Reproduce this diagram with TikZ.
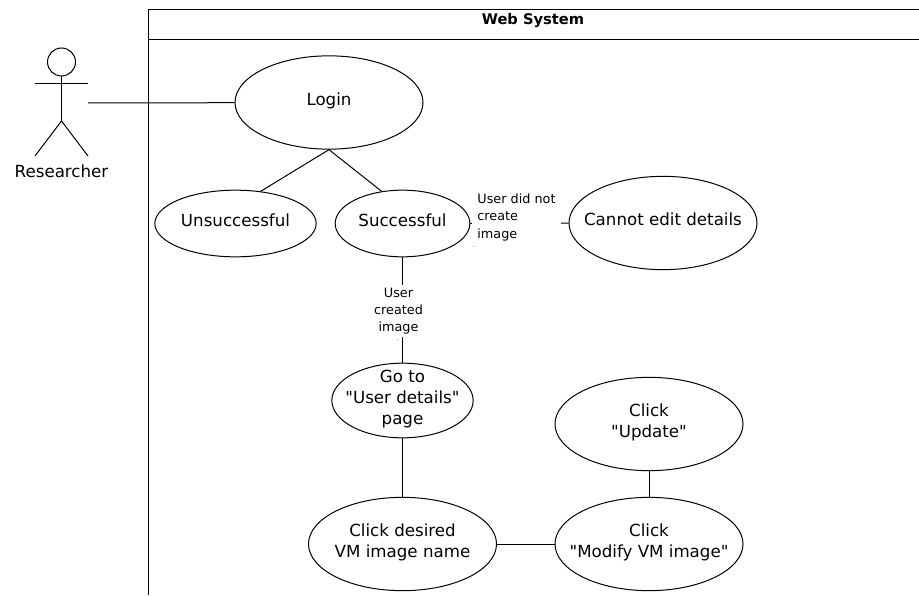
\documentclass[tikz,border=0pt]{standalone}
\usepackage{fontspec}
\setmainfont{DejaVu Sans}[Ligatures=TeXOff]
\usetikzlibrary{shapes.geometric}
\newcommand{\straydot}[1]{\rlap{\smash{\hspace*{#1}\raisebox{-6.75pt}{\fontsize{4pt}{4pt}\selectfont.}}}}

\begin{document}
\begin{tikzpicture}[x=0.75pt,y=0.75pt,yscale=-1,xscale=1,
  line width=0.75pt,
  usecase/.style={draw,ellipse,inner sep=-20pt,align=center,text depth=5pt,font=\fontsize{12.5pt}{16pt}\selectfont},
  guard/.style={fill=white,inner xsep=3.75pt,inner ysep=2.25pt,font=\fontsize{9.6pt}{13pt}\selectfont}]
\useasboundingbox (0,0) rectangle (919,595);

%Shape: Frame
\draw (148.5,595) -- (148.5,9.5) -- (919,9.5);
\draw (148.5,40) -- (919,40);
% Text Node
\node (title) at (533,21) {\fontsize{11pt}{13pt}\selectfont\bfseries Web System};

%Shape: Actor
\draw (61.5,62) circle (14);
\draw (61.5,76) -- (61.5,121);
\draw (35,84) -- (88,84);
\draw (35,156) -- (61.5,121) -- (88,156);
\coordinate (hand) at (88,103);
% Text Node
\node (researcher) at (61.5,171) {\fontsize{12.5pt}{16pt}\selectfont Researcher};

%Shape: Ellipse
\node (login) [usecase,minimum width=141pt,minimum height=70pt] at (329,102.5) {Login};
\node (unsuccessful) [usecase,minimum width=121pt,minimum height=50pt] at (235.5,223.5) {Unsuccessful};
\node (successful) [usecase,minimum width=101pt,minimum height=50pt] at (402.5,223.5) {Successful};
\node (noedit) [usecase,minimum width=141pt,minimum height=70pt] at (663,223) {Cannot edit details};
\node (details) [usecase,minimum width=106pt,minimum height=56pt] at (402.5,400.5) {Go to\\"User details"\\page};
\node (vmname) [usecase,minimum width=141pt,minimum height=70pt] at (402.5,544) {Click desired\\VM image name};
\node (modify) [usecase,minimum width=141pt,minimum height=70pt] at (649,544) {Click\\"Modify VM image"};
\node (update) [usecase,minimum width=141pt,minimum height=70pt] at (649,424) {Click\\"Update"};

%Straight Lines
\draw (hand) -- (login);
\draw (login.south) -- (unsuccessful.52);
\draw (login.south) -- (successful.123);
\draw (successful.east) -- (noedit.west) node [guard,pos=0.47,yshift=4.5pt,align=left] {User did not\\create\\\straydot{-3.2pt}image};
\draw (successful.south) -- (details.north) node [guard,midway,xshift=-3pt,yshift=-0.75pt,align=center] {User\\created\\\straydot{14pt}image};
\draw (details.south) -- (vmname.north);
\draw (vmname) -- (modify);
\draw (modify) -- (update);

\end{tikzpicture}
\end{document}
